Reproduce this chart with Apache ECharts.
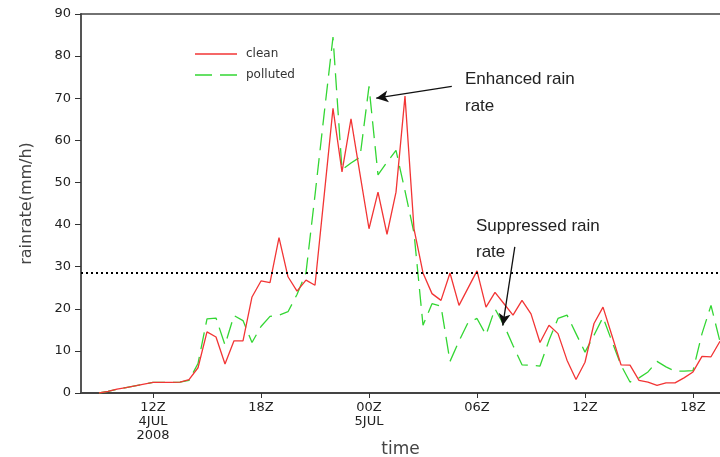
<!DOCTYPE html>
<html>
<head>
<meta charset="utf-8">
<script src="https://cdn.jsdelivr.net/npm/echarts@6/dist/echarts.min.js"></script>
<style>
  html, body { margin: 0; padding: 0; background: #fff; }
  #chart { width: 720px; height: 457px; }
</style>
</head>
<body>
<div id="chart"></div>
<script>
// Time in hours since 00Z 4 JUL 2008, half-hourly samples
const hours = [
  9, 9.5, 10, 10.5, 11, 11.5, 12, 12.5, 13, 13.5,
  14, 14.5, 15, 15.5, 16, 16.5, 17, 17.5, 18, 18.5,
  19, 19.5, 20, 20.5, 21, 21.5, 22, 22.5, 23, 23.5,
  24, 24.5, 25, 25.5, 26, 26.5, 27, 27.5, 28, 28.5,
  29, 29.5, 30, 30.5, 31, 31.5, 32, 32.5, 33, 33.5,
  34, 34.5, 35, 35.5, 36, 36.5, 37, 37.5, 38, 38.5,
  39, 39.5, 40, 40.5, 41, 41.5, 42, 42.5, 43, 43.5
];

// Rain rate (mm/h), clean case
const clean = [
  0.0, 0.4, 0.9, 1.3, 1.7, 2.1, 2.5, 2.5, 2.5, 2.6,
  3.2, 6.0, 14.5, 13.3, 6.9, 12.4, 12.4, 22.8, 26.6, 26.2,
  36.9, 27.6, 24.2, 26.8, 25.6, 46.5, 67.6, 52.5, 65.1, 52.0,
  39.0, 47.7, 37.7, 47.7, 70.5, 39.0, 28.5, 23.6, 22.0, 28.5,
  20.8, 24.9, 29.0, 20.4, 23.9, 21.2, 18.5, 22.0, 18.8, 12.0,
  16.1, 14.1, 7.8, 3.2, 7.3, 16.5, 20.4, 13.6, 6.7, 6.6,
  3.0, 2.6, 1.8, 2.4, 2.4, 3.6, 5.0, 8.7, 8.6, 12.3
];

// Rain rate (mm/h), polluted case
const polluted = [
  0.0, 0.4, 0.9, 1.3, 1.7, 2.1, 2.5, 2.5, 2.5, 2.6,
  3.0, 7.0, 17.6, 17.8, 11.4, 18.4, 17.2, 12.0, 15.8, 18.2,
  18.5, 19.3, 23.4, 28.6, 47.0, 66.0, 84.5, 53.0, 54.6, 56.0,
  72.8, 51.8, 54.8, 57.6, 48.0, 38.0, 16.1, 21.2, 20.6, 7.5,
  12.3, 16.7, 17.7, 13.8, 20.0, 16.1, 11.3, 6.7, 6.6, 6.4,
  12.5, 17.7, 18.5, 14.1, 9.7, 13.7, 18.0, 12.2, 6.6, 2.6,
  3.6, 5.0, 7.5, 6.2, 5.2, 5.2, 5.3, 14.1, 20.8, 12.2
];

// Time-axis tick positions and their labels
const tickHours = [12, 18, 24, 30, 36, 42];
const tickLabels = ['12Z\n4JUL\n2008', '18Z', '00Z\n5JUL', '06Z', '12Z', '18Z'];

// Reference rain-rate threshold
const threshold = 28.5;

const CLEAN_COLOR = '#f23535';
const POLLUTED_COLOR = '#33d633';

const pair = (arr) => hours.map((h, i) => [h, arr[i]]);

const chart = echarts.init(document.getElementById('chart'), null, { renderer: 'canvas' });

const font = 'DejaVu Sans';

chart.setOption({
  animation: false,
  backgroundColor: '#ffffff',
  grid: { left: 81, right: 0, top: 14, bottom: 64, show: false, outerBoundsMode: 'none', containLabel: false },
  legend: {
    orient: 'vertical',
    left: 190,
    top: 42,
    itemWidth: 42,
    itemHeight: 2,
    itemGap: 7,
    textStyle: { fontFamily: font, fontSize: 12, color: '#333', padding: [0, 0, 0, 4], lineHeight: 14 },
    data: [
      // solid stroke for clean, two dashes for polluted
      { name: 'clean', icon: 'path://M0,0h42v1.4h-42Z', itemStyle: { color: CLEAN_COLOR } },
      { name: 'polluted', icon: 'path://M0,0h17v1.4h-17ZM25,0h17v1.4h-17Z', itemStyle: { color: POLLUTED_COLOR } }
    ]
  },
  xAxis: [
    {
      type: 'value',
      min: 8,
      max: 43.5,
      name: 'time',
      nameLocation: 'middle',
      nameGap: 48,
      nameMoveOverlap: false,
      nameTextStyle: { fontFamily: font, fontSize: 17, color: '#444', verticalAlign: 'top' },
      axisLine: { show: true, lineStyle: { color: '#444', width: 2 } },
      axisTick: { show: true, customValues: tickHours, length: 5, lineStyle: { color: '#333', width: 1 } },
      axisLabel: {
        customValues: tickHours,
        margin: 8,
        fontFamily: font,
        fontSize: 13,
        lineHeight: 14,
        color: '#222',
        formatter: (v) => {
          const k = tickHours.indexOf(v);
          return k >= 0 ? tickLabels[k] : '';
        }
      },
      splitLine: { show: false }
    },
    {
      type: 'value',
      position: 'top',
      min: 8,
      max: 43.5,
      axisLine: { show: true, onZero: false, lineStyle: { color: '#444', width: 1.5 } },
      axisTick: { show: false },
      axisLabel: { show: false },
      splitLine: { show: false }
    }
  ],
  yAxis: {
    type: 'value',
    min: 0,
    max: 90,
    interval: 10,
    name: 'rainrate(mm/h)',
    nameLocation: 'middle',
    nameGap: 46,
    nameTextStyle: { fontFamily: font, fontSize: 16, color: '#444' },
    axisLine: { show: true, lineStyle: { color: '#555', width: 2 } },
    axisTick: { show: true, length: 6, lineStyle: { color: '#333', width: 1 } },
    axisLabel: { margin: 10, fontFamily: font, fontSize: 13, color: '#222' },
    splitLine: { show: false }
  },
  series: [
    {
      name: 'clean',
      type: 'line',
      data: pair(clean),
      symbol: 'none',
      lineStyle: { color: CLEAN_COLOR, width: 1.3 },
      itemStyle: { color: CLEAN_COLOR },
      z: 3,
      markLine: {
        silent: true,
        animation: false,
        label: { show: false },
        data: [
          [
            { coord: [8, threshold], symbol: 'none', lineStyle: { color: '#000', width: 2, type: [2, 3] } },
            { coord: [43.5, threshold], symbol: 'none' }
          ],
          [
            { coord: [28.6, 72.8], symbol: 'none', lineStyle: { color: '#111', width: 1.3, type: 'solid' } },
            { coord: [24.4, 70.0], symbol: 'arrow', symbolSize: [9, 12] }
          ],
          [
            { coord: [32.1, 34.7], symbol: 'none', lineStyle: { color: '#111', width: 1.3, type: 'solid' } },
            { coord: [31.43, 16.0], symbol: 'arrow', symbolSize: [9, 12] }
          ]
        ]
      }
    },
    {
      name: 'polluted',
      type: 'line',
      data: pair(polluted),
      symbol: 'none',
      lineStyle: { color: POLLUTED_COLOR, width: 1.3, type: [17, 8] },
      itemStyle: { color: POLLUTED_COLOR },
      z: 2
    }
  ],
  graphic: [
    {
      type: 'text',
      x: 465,
      y: 66,
      style: {
        text: 'Enhanced rain\nrate',
        font: '17px "Liberation Sans"',
        lineHeight: 27,
        fill: '#222',
        verticalAlign: 'top'
      }
    },
    {
      type: 'text',
      x: 476,
      y: 213,
      style: {
        text: 'Suppressed rain\nrate',
        font: '17px "Liberation Sans"',
        lineHeight: 26,
        fill: '#222',
        verticalAlign: 'top'
      }
    }
  ]
});
</script>
</body>
</html>
